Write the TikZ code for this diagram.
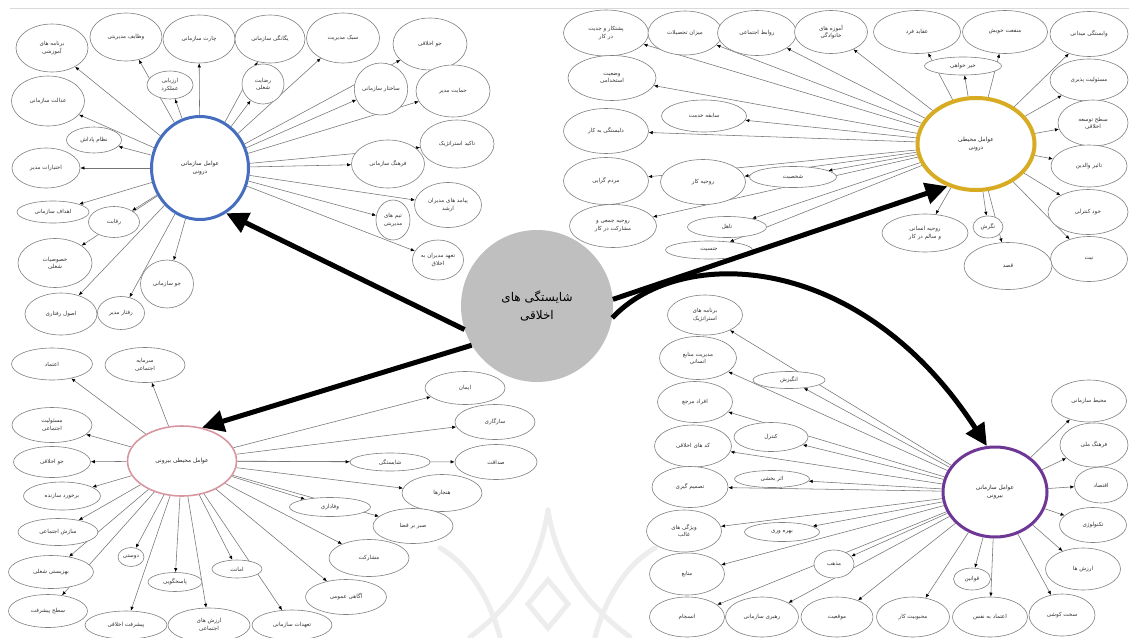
\documentclass[tikz,border=0pt]{standalone}
\usepackage{fontspec}
\newfontfamily\fafont[Script=Arabic]{DejaVu Sans}
\TeXXeTstate=1
\usetikzlibrary{shapes.geometric,arrows.meta,backgrounds}
\newcommand\fa[1]{\beginR #1\endR}
\newcommand\E[6]{\node[el,minimum width=#4pt,minimum height=#5pt] (#1) at (#2,#3) {#6};}
\tikzset{
 el/.style={ellipse, draw=black!50, line width=0.6pt, fill=white, inner sep=0pt, align=center, font=\fafont\fontsize{5.6}{7.5}\selectfont, text=black!80},
 hub/.style={ellipse, fill=white, inner sep=0pt, align=center, font=\fafont\fontsize{5.8}{8.5}\selectfont, text=black!85},
 arr/.style={draw=black!55, line width=0.55pt, -{Latex[length=4pt,width=3.4pt,color=black]}},
 big/.style={line width=5pt, black, -{Triangle[length=22pt,width=21pt]}},
 wm/.style={draw=black!7, line width=5pt, line cap=round},
}
\begin{document}
\begin{tikzpicture}[x=1pt,y=-1pt]
\useasboundingbox (0,0) rectangle (1129,637);

% hubs
\node[hub, draw={rgb,255:red,70;green,110;blue,190}, line width=3pt, minimum width=97pt, minimum height=103pt] (A) at (200,168) {\fa{عوامل سازمانی}\\\fa{درونی}};
\node[hub, draw={rgb,255:red,215;green,172;blue,35}, line width=4pt, minimum width=117pt, minimum height=92pt] (B) at (976,144) {\fa{عوامل محیطی}\\\fa{درونی}};
\node[hub, draw={rgb,255:red,215;green,150;blue,160}, line width=1.6pt, minimum width=109pt, minimum height=70pt] (C) at (182,461) {\fa{عوامل محیطی بیرونی}};
\node[hub, draw={rgb,255:red,110;green,55;blue,150}, line width=3pt, minimum width=104pt, minimum height=90pt] (D) at (995,492) {\fa{عوامل سازمانی}\\\fa{بیرونی}};

% top-left cluster
\E{a1}{52}{48}{72}{48}{\fa{برنامه های}\\\fa{آموزشی}}
\E{a2}{126}{37}{72}{48}{\fa{وظایف مدیریتی}}
\E{a3}{199}{39}{72}{48}{\fa{چارت سازمانی}}
\E{a4}{270}{39}{70}{48}{\fa{یگانگی سازمانی}}
\E{a5}{343}{38}{73}{50}{\fa{سبک مدیریت}}
\E{a6}{430}{44}{74}{52}{\fa{جو اخلاقی}}
\E{a7}{381}{89}{47}{52}{\fa{ساختار سازمانی}}
\E{a8}{453}{91}{74}{52}{\fa{حمایت مدیر}}
\E{a9}{457}{144}{74}{48}{\fa{تاکید استراتژیک}}
\E{a10}{388}{164}{73}{48}{\fa{فرهنگ سازمانی}}
\E{a11}{170}{85}{46}{28}{\fa{ارزیابی}\\\fa{عملکرد}}
\E{a12}{263}{84}{42}{40}{\fa{رضایت}\\\fa{شغلی}}
\E{a13}{48}{101}{73}{50}{\fa{عدالت سازمانی}}
\E{a14}{94}{140}{55}{26}{\fa{نظام پاداش}}
\E{a15}{46}{168}{68}{40}{\fa{اختیارات مدیر}}
\E{a16}{53}{212}{72}{22}{\fa{اهداف سازمانی}}
\E{a17}{114}{222}{51}{31}{\fa{رقابت}}
\E{a18}{55}{263}{74}{49}{\fa{خصوصیات}\\\fa{شغلی}}
\E{a19}{167}{284}{53}{48}{\fa{جو سازمانی}}
\E{a20}{121}{313}{47}{33}{\fa{رفتار مدیر}}
\E{a21}{61}{314}{72}{42}{\fa{اصول رفتاری}}
\E{a22}{448}{205}{67}{45}{\fa{پیامد های مدیران}\\\fa{ارشد}}
\E{a23}{393}{220}{34}{40}{\fa{تیم های}\\\fa{مدیریتی}}
\E{a24}{438}{260}{51}{40}{\fa{تعهد مدیران به}\\\fa{اخلاق}}

% top-right cluster
\E{b1}{606}{33}{85}{46}{\fa{پشتکار و جدیت}\\\fa{در کار}}
\E{b2}{685}{33}{74}{44}{\fa{میزان تحصیلات}}
\E{b3}{757}{33}{79}{45}{\fa{روابط اجتماعی}}
\E{b4}{831}{32}{73}{43}{\fa{آموزه های}\\\fa{خانوادگی}}
\E{b5}{917}{32}{87}{43}{\fa{عقاید فرد}}
\E{b6}{1005}{32}{85}{43}{\fa{منفعت خویش}}
\E{b7}{1089}{34}{78}{45}{\fa{وابستگی میدانی}}
\E{b8}{963}{66}{77}{18}{\fa{خیر خواهی}}
\E{b9}{1089}{80}{78}{42}{\fa{مسئولیت پذیری}}
\E{b10}{1093}{123}{70}{46}{\fa{سطح توسعه}\\\fa{اخلاقی}}
\E{b11}{1089}{166}{76}{42}{\fa{تاثیر والدین}}
\E{b12}{1088}{212}{80}{45}{\fa{خود کنترلی}}
\E{b13}{1089}{259}{77}{45}{\fa{نیت}}
\E{b14}{1008}{266}{88}{47}{\fa{قصد}}
\E{b15}{988}{227}{30}{22}{\fa{نگرش}}
\E{b16}{925}{233}{86}{38}{\fa{روحیه انسانی}\\\fa{و سالم در کار}}
\E{b17}{612}{78}{88}{45}{\fa{وضعیت}\\\fa{استخدامی}}
\E{b18}{704}{116}{85}{32}{\fa{سابقه خدمت}}
\E{b19}{606}{131}{85}{45}{\fa{دلبستگی به کار}}
\E{b20}{606}{181}{85}{47}{\fa{مردم گرایی}}
\E{b21}{703}{182}{85}{45}{\fa{روحیه کار}}
\E{b22}{793}{177}{87}{21}{\fa{شخصیت}}
\E{b23}{613}{226}{87}{43}{\fa{روحیه جمعی و}\\\fa{مشارکت در کار}}
\E{b24}{727}{227}{79}{21}{\fa{تاهل}}
\E{b25}{709}{250}{87}{18}{\fa{جنسیت}}

% bottom-left cluster
\E{c1}{52}{364}{81}{32}{\fa{اعتماد}}
\E{c2}{145}{365}{80}{35}{\fa{سرمایه}\\\fa{اجتماعی}}
\E{c3}{52}{425}{80}{35}{\fa{مسئولیت}\\\fa{اجتماعی}}
\E{c4}{52}{462}{77}{31}{\fa{جو اخلاقی}}
\E{c5}{62}{496}{77}{28}{\fa{برخورد سازنده}}
\E{c6}{58}{532}{80}{27}{\fa{سازش اجتماعی}}
\E{c7}{51}{572}{85}{33}{\fa{بهزیستی شغلی}}
\E{c8}{48}{611}{79}{33}{\fa{سطح پیشرفت}}
\E{c9}{126}{625}{82}{28}{\fa{پیشرفت اخلاقی}}
\E{c10}{209}{625}{82}{34}{\fa{ارزش های}\\\fa{اجتماعی}}
\E{c11}{292}{625}{80}{30}{\fa{تعهدات سازمانی}}
\E{c12}{131}{557}{26}{19}{\fa{دوستی}}
\E{c13}{175}{582}{54}{19}{\fa{پاسخگویی}}
\E{c14}{237}{569}{50}{18}{\fa{امانت}}
\E{c15}{465}{388}{80}{33}{\fa{ایمان}}
\E{c16}{495}{422}{80}{35}{\fa{سازگاری}}
\E{c17}{496}{462}{82}{35}{\fa{صداقت}}
\E{c18}{390}{462}{80}{18}{\fa{شایستگی}}
\E{c19}{442}{493}{80}{37}{\fa{هنجارها}}
\E{c20}{330}{507}{81}{19}{\fa{وفاداری}}
\E{c21}{413}{526}{80}{35}{\fa{صبر بر قضا}}
\E{c22}{369}{558}{80}{37}{\fa{مشارکت}}
\E{c23}{346}{597}{81}{35}{\fa{آگاهی عمومی}}

% bottom-right cluster
\E{d1}{705}{315}{75}{40}{\fa{برنامه های}\\\fa{استراتژیک}}
\E{d2}{698}{358}{77}{43}{\fa{مدیریت منابع}\\\fa{انسانی}}
\E{d3}{789}{380}{72}{17}{\fa{انگیزش}}
\E{d4}{695}{402}{75}{41}{\fa{افراد مرجع}}
\E{d5}{693}{446}{77}{42}{\fa{کد های اخلاقی}}
\E{d6}{771}{437}{74}{29}{\fa{کنترل}}
\E{d7}{690}{487}{76}{41}{\fa{تصمیم گیری}}
\E{d8}{772}{479}{75}{17}{\fa{اثر بخشی}}
\E{d9}{684}{531}{75}{42}{\fa{ویژگی های}\\\fa{غالب}}
\E{d10}{782}{532}{75}{19}{\fa{بهره وری}}
\E{d11}{687}{574}{75}{42}{\fa{منابع}}
\E{d12}{687}{617}{75}{40}{\fa{انسجام}}
\E{d13}{834}{564}{40}{28}{\fa{مذهب}}
\E{d14}{762}{617}{73}{40}{\fa{رهبری سازمانی}}
\E{d15}{837}{617}{72}{40}{\fa{موقعیت}}
\E{d16}{913}{617}{73}{40}{\fa{محبوبیت کار}}
\E{d17}{990}{617}{75}{40}{\fa{اعتماد به نفس}}
\E{d18}{1062}{615}{66}{42}{\fa{سخت کوشی}}
\E{d19}{972}{579}{37}{22}{\fa{قوانین}}
\E{d20}{1083}{569}{75}{42}{\fa{ارزش ها}}
\E{d21}{1093}{525}{67}{35}{\fa{تکنولوژی}}
\E{d22}{1101}{485}{53}{36}{\fa{اقتصاد}}
\E{d23}{1094}{445}{68}{44}{\fa{فرهنگ ملی}}
\E{d24}{1089}{401}{75}{42}{\fa{محیط سازمانی}}

\begin{scope}[on background layer]
\fill[white] (0,0) rectangle (1129,637);
\draw[black!15, line width=1pt] (10,8) -- (1129,8);
% watermark
\draw[wm] (440,548) .. controls (470,565) and (490,600) .. (500,637);
\draw[wm] (548,510) .. controls (540,560) and (520,600) .. (470,637);
\draw[wm] (548,510) .. controls (556,560) and (580,600) .. (630,637);
\draw[wm] (655,548) .. controls (625,565) and (605,600) .. (595,637);
\draw[wm] (548,580) -- (568,604) -- (548,628) -- (528,604) -- cycle;
% small connectors
\foreach \i in {1,...,24} \draw[arr] (A) -- (a\i);
\foreach \i in {1,...,25} \draw[arr] (B) -- (b\i);
\foreach \i in {1,...,23} \draw[arr] (C) -- (c\i);
\foreach \i in {1,...,24} \draw[arr] (D) -- (d\i);
\end{scope}

% central node and big arrows
\node[circle, fill=black!25, minimum size=152pt, inner sep=0pt, align=center, font=\fafont\fontsize{12}{18}\selectfont] (cen) at (537,306) {\fa{شایستگی های}\\\fa{اخلاقی}};
\draw[big] (cen.198) -- (A.-60);
\draw[big] (cen.211) -- (C.59);
\draw[big] (cen.5) -- (B.236);
\draw[big] (cen.-9) .. controls (680,245) and (860,250) .. (D.100);
\end{tikzpicture}
\end{document}
